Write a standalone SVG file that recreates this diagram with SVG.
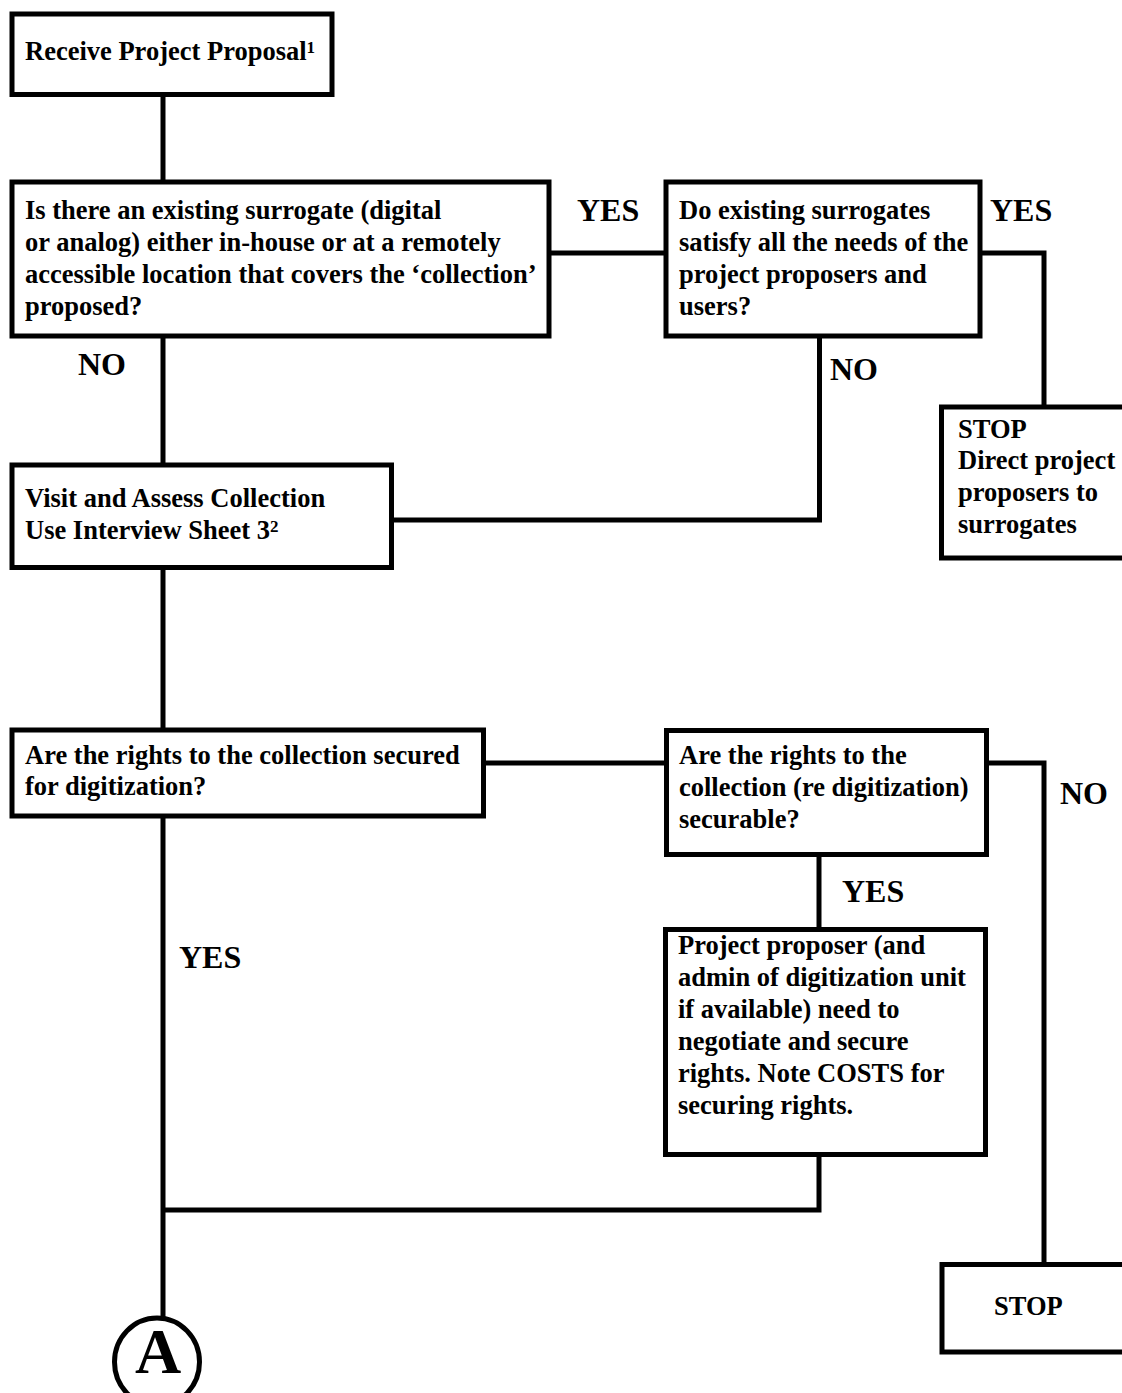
<svg xmlns="http://www.w3.org/2000/svg" width="1122" height="1393" viewBox="0 0 1122 1393">
<style>
.box{fill:#fff;stroke:#000;stroke-width:5}
.con{fill:none;stroke:#000;stroke-width:5}
text{font-family:"Liberation Serif","Times New Roman",serif;font-weight:bold;fill:#000}
.t{font-size:26.5px}
.lbl{font-size:32px}
.sup{font-size:17px}
</style>
<rect width="1122" height="1393" fill="#fff"/>
<g id="connectors">
<polyline class="con" points="163,94 163,182"/>
<polyline class="con" points="163,336 163,465"/>
<polyline class="con" points="549,253 666,253"/>
<polyline class="con" points="980,253 1044,253 1044,407"/>
<polyline class="con" points="819.5,336 819.5,520 391.5,520"/>
<polyline class="con" points="163,567.5 163,730"/>
<polyline class="con" points="483.5,763 666.5,763"/>
<polyline class="con" points="986.5,763 1044,763 1044,1264.5"/>
<polyline class="con" points="819,854.5 819,929.5"/>
<polyline class="con" points="163,816 163,1318"/>
<polyline class="con" points="819,1154.5 819,1210 163,1210"/>
</g>
<g id="labels">
<text class="lbl" x="577" y="221">YES</text>
<text class="lbl" x="990" y="221">YES</text>
<text class="lbl" x="78" y="375">NO</text>
<text class="lbl" x="830" y="380">NO</text>
<text class="lbl" x="1060" y="804">NO</text>
<text class="lbl" x="842" y="902">YES</text>
<text class="lbl" x="179" y="968">YES</text>
</g>
<g id="n-receive">
<rect class="box" x="12" y="14" width="320" height="80.5"/>
<text class="t" x="25" y="60">Receive Project Proposal<tspan class="sup" dy="-7">1</tspan></text>
</g>
<g id="n-existing">
<rect class="box" x="12" y="182" width="537" height="154"/>
<text class="t" x="25" y="219">Is there an existing surrogate (digital</text>
<text class="t" x="25" y="251">or analog) either in-house or at a remotely</text>
<text class="t" x="25" y="283">accessible location that covers the ‘collection’</text>
<text class="t" x="25" y="315">proposed?</text>
</g>
<g id="n-satisfy">
<rect class="box" x="666" y="182" width="314" height="154"/>
<text class="t" x="679" y="219">Do existing surrogates</text>
<text class="t" x="679" y="251">satisfy all the needs of the</text>
<text class="t" x="679" y="283">project proposers and</text>
<text class="t" x="679" y="315">users?</text>
</g>
<g id="n-stop1">
<rect class="box" x="941.5" y="407" width="200" height="151"/>
<text class="t" x="958" y="438">STOP</text>
<text class="t" x="958" y="469">Direct project</text>
<text class="t" x="958" y="501">proposers to</text>
<text class="t" x="958" y="533">surrogates</text>
</g>
<g id="n-visit">
<rect class="box" x="12" y="465" width="379.5" height="102.5"/>
<text class="t" x="25" y="507">Visit and Assess Collection</text>
<text class="t" x="25" y="539">Use Interview Sheet 3<tspan class="sup" dy="-7">2</tspan></text>
</g>
<g id="n-secured">
<rect class="box" x="12" y="730" width="471.5" height="86"/>
<text class="t" x="25" y="764">Are the rights to the collection secured</text>
<text class="t" x="25" y="795">for digitization?</text>
</g>
<g id="n-securable">
<rect class="box" x="666.5" y="730.5" width="320" height="124"/>
<text class="t" x="679" y="764">Are the rights to the</text>
<text class="t" x="679" y="796">collection (re digitization)</text>
<text class="t" x="679" y="828">securable?</text>
</g>
<g id="n-negotiate">
<rect class="box" x="665.5" y="929.5" width="320" height="225"/>
<text class="t" x="678" y="954">Project proposer (and</text>
<text class="t" x="678" y="986">admin of digitization unit</text>
<text class="t" x="678" y="1018">if available) need to</text>
<text class="t" x="678" y="1050">negotiate and secure</text>
<text class="t" x="678" y="1082">rights. Note COSTS for</text>
<text class="t" x="678" y="1114">securing rights.</text>
</g>
<g id="n-stop2">
<rect class="box" x="942" y="1264.5" width="200" height="87.5"/>
<text class="t" x="994" y="1315">STOP</text>
</g>
<g id="n-connectorA">
<ellipse class="box" cx="157" cy="1362" rx="42.5" ry="44"/>
<text x="158" y="1373" font-size="64" text-anchor="middle">A</text>
</g>
</svg>
